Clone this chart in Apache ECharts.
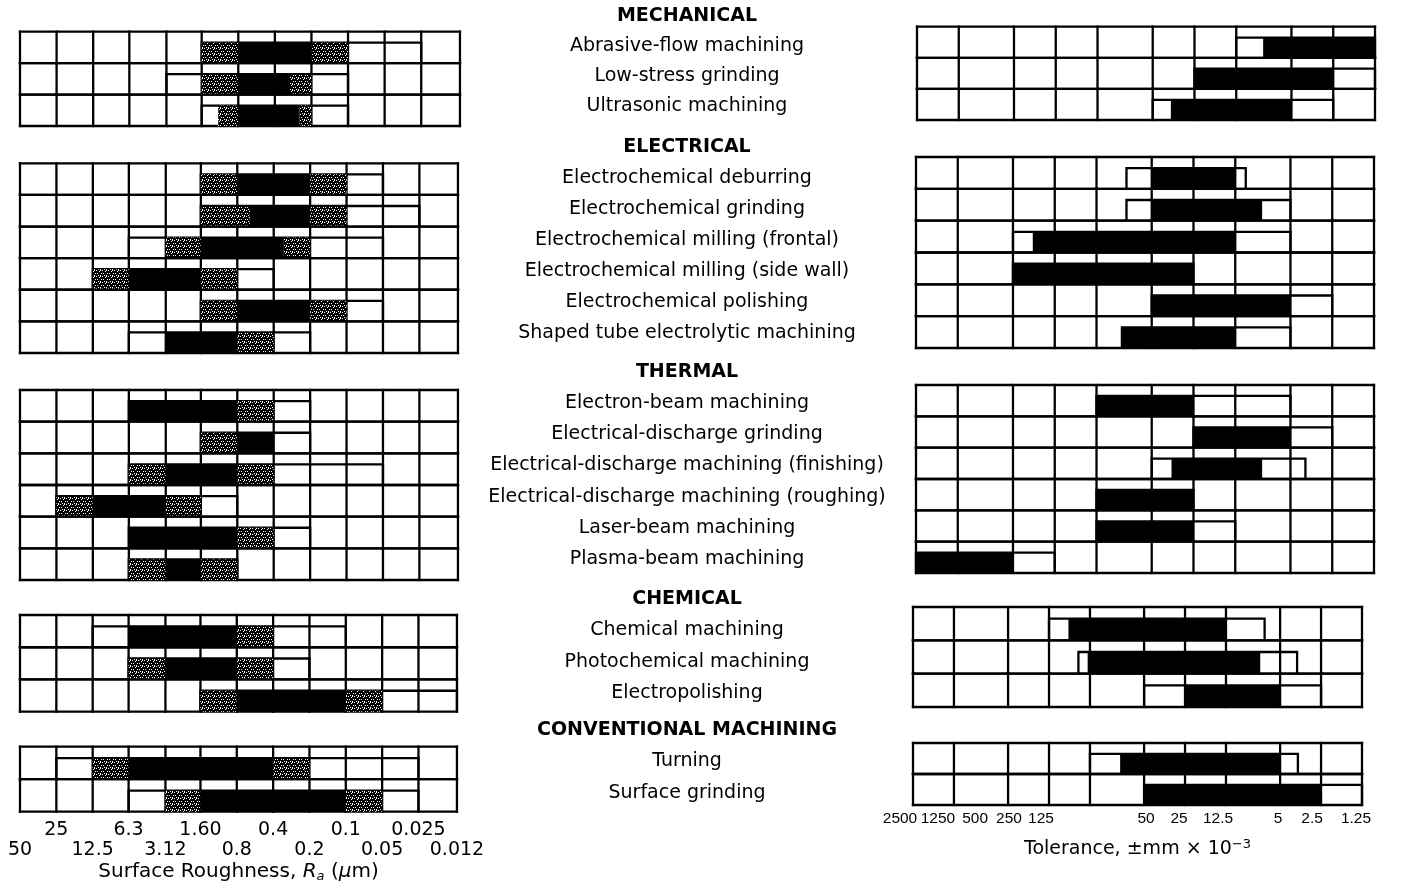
<!DOCTYPE html>
<html><head><meta charset="utf-8">
<script src="https://cdn.jsdelivr.net/npm/echarts@6/dist/echarts.min.js"></script>
<style>html,body{margin:0;padding:0;background:#fff}#c{width:1414px;height:893px}</style>
</head><body><div id="c"></div>
<script>
// ---------------- DATA ----------------
const groupTitles = ['MECHANICAL', 'ELECTRICAL', 'THERMAL', 'CHEMICAL', 'CONVENTIONAL MACHINING'];
const mechanical = ['Abrasive-flow machining', 'Low-stress grinding', 'Ultrasonic machining'];
const electrical = ['Electrochemical deburring', 'Electrochemical grinding', 'Electrochemical milling (frontal)',
  'Electrochemical milling (side wall)', 'Electrochemical polishing', 'Shaped tube electrolytic machining'];
const thermal = ['Electron-beam machining', 'Electrical-discharge grinding', 'Electrical-discharge machining (finishing)',
  'Electrical-discharge machining (roughing)', 'Laser-beam machining', 'Plasma-beam machining'];
const chemical = ['Chemical machining', 'Photochemical machining', 'Electropolishing'];
const conventional = ['Turning', 'Surface grinding'];

// Each row: [less frequent from, average from, common from, common to, average to, less frequent to]
// Surface roughness Ra (µm)
const roughMechanical = [[1.6, 1.6, 0.8, 0.2, 0.1, 0.025], [3.12, 1.6, 0.8, 0.3, 0.2, 0.1], [1.6, 1.17, 0.8, 0.25, 0.2, 0.1]];
const roughElectrical = [[1.6, 1.6, 0.8, 0.2, 0.1, 0.05], [1.6, 1.6, 0.63, 0.2, 0.1, 0.025], [6.3, 3.12, 1.6, 0.33, 0.2, 0.05],
  [12.5, 12.5, 6.3, 1.6, 0.8, 0.4], [1.6, 1.6, 0.8, 0.2, 0.1, 0.05], [6.3, 3.12, 3.12, 0.8, 0.4, 0.2]];
const roughThermal = [[6.3, 6.3, 6.3, 0.8, 0.4, 0.2], [1.6, 1.6, 0.8, 0.4, 0.4, 0.2], [6.3, 6.3, 3.12, 0.8, 0.4, 0.05],
  [25, 25, 12.5, 3.12, 1.6, 0.8], [6.3, 6.3, 6.3, 0.8, 0.4, 0.2], [6.3, 6.3, 3.12, 1.6, 0.8, 0.8]];
const roughChemical = [[12.5, 6.3, 6.3, 0.8, 0.4, 0.1], [6.3, 6.3, 3.12, 0.8, 0.4, 0.2], [1.6, 1.6, 0.8, 0.1, 0.05, 0.012]];
const roughConventional = [[25, 12.5, 6.3, 0.4, 0.2, 0.025], [6.3, 3.12, 1.6, 0.1, 0.05, 0.025]];

// Tolerance (±mm × 10^-3)
const tolMechanical = [[12.5, 8, 8, 1.25, 1.25, 1.25], [25, 25, 25, 2.5, 2.5, 1.25], [50, 37, 37, 5, 5, 2.5]];
const tolElectrical = [[76, 50, 50, 12.5, 12.5, 10.5], [76, 50, 50, 8, 8, 5], [500, 360, 360, 12.5, 12.5, 5],
  [500, 500, 500, 25, 25, 25], [50, 50, 50, 5, 5, 2.5], [82, 82, 82, 12.5, 12.5, 5]];
const tolThermal = [[125, 125, 125, 25, 25, 5], [25, 25, 25, 5, 5, 2.5], [50, 36, 36, 8, 8, 3.9],
  [125, 125, 125, 25, 25, 25], [125, 125, 125, 25, 25, 12.5], [2500, 2500, 2500, 500, 500, 250]];
const tolChemical = [[250, 180, 180, 12.5, 12.5, 6.5], [152, 130, 130, 7, 7, 3.75], [50, 25, 25, 5, 5, 2.5]];
const tolConventional = [[125, 75, 75, 5, 5, 3.7], [50, 50, 50, 2.5, 2.5, 1.25]];

const roughTicks = [50, 25, 12.5, 6.3, 3.12, 1.6, 0.8, 0.4, 0.2, 0.1, 0.05, 0.025, 0.012];
const roughTickLabels = ['50', '25', '12.5', '6.3', '3.12', '1.60', '0.8', '0.4', '0.2', '0.1', '0.05', '0.025', '0.012'];
const tolTicks = [2500, 1250, 500, 250, 125, 50, 25, 12.5, 5, 2.5, 1.25];
const tolTickLabels = ['2500', '1250', '500', '250', '125', '50', '25', '12.5', '5', '2.5', '1.25'];

// ---------------- LAYOUT / STYLE ----------------
const FONT = 'DejaVu Sans';
const FS = 19;
const LW = 2.3;
const SPLIT = 0.35;
const names = [mechanical, electrical, thermal, chemical, conventional];
const roughData = [roughMechanical, roughElectrical, roughThermal, roughChemical, roughConventional];
const tolData = [tolMechanical, tolElectrical, tolThermal, tolChemical, tolConventional];
const leftGrids = [
  {left: 20, top: 31.7, width: 440, height: 94.3},
  {left: 20, top: 163.3, width: 438, height: 189.7},
  {left: 20, top: 390, width: 438, height: 190},
  {left: 20, top: 615, width: 437, height: 96.7},
  {left: 20, top: 746.7, width: 437, height: 65}
];
const rightGrids = [
  {left: 917, top: 26.7, width: 458, height: 93.3},
  {left: 916, top: 157, width: 458, height: 191},
  {left: 916, top: 385, width: 458, height: 188},
  {left: 913, top: 607, width: 449, height: 100},
  {left: 913, top: 743, width: 449, height: 62}
];
const midGrids = [
  {top: 1, height: 120}, {top: 131.5, height: 217}, {top: 356.4, height: 218.2},
  {top: 583.3, height: 125.3}, {top: 714.25, height: 94.5}
];
// horizontal offsets (px) of the printed tolerance labels relative to their grid lines
const tolLabelShift = [-13, -16, -33, -40, -49, 2, -6, -8, -2, -9, -6];
const TOLFONT = 'Liberation Sans', TOLFS = 15.5;
const ROUGH_MIN = 0.01199, ROUGH_MAX = 50.001, TOL_MIN = 1.2499, TOL_MAX = 2500.01;

// stippled fill for the "average" ranges
const stip = document.createElement('canvas');
stip.width = 6; stip.height = 6;
(function () {
  const ctx = stip.getContext('2d');
  ctx.fillStyle = '#000'; ctx.fillRect(0, 0, 6, 6);
  ctx.fillStyle = '#fff';
  [[0, 0], [3, 1], [5, 3], [1, 3], [4, 5], [2, 5], [4, 0]].forEach(p => ctx.fillRect(p[0], p[1], 1, 1));
})();
const GRAY = {image: stip, repeat: 'repeat'};

function findIdx(ticks, v) {
  return ticks.findIndex(t => Math.abs(t - v) / t < 1e-4);
}

function makeRenderer(ticks) {
  return function (params, api) {
    const r = api.value(0);
    const pt = v => api.coord([v, r]);
    const cy = pt(ticks[0])[1];
    const h = Math.abs(api.coord([ticks[0], 1])[1] - api.coord([ticks[0], 0])[1]);
    const top = cy - h / 2, bot = cy + h / 2;
    const xs = ticks.map(t => pt(t)[0]);
    const xl = Math.min.apply(null, xs), xr = Math.max.apply(null, xs);
    const sy = top + h * SPLIT;
    const X = i => pt(api.value(i))[0];
    const a = X(1), b = X(2), c = X(3), d = X(4), e = X(5), f = X(6);
    const L = (x1, y1, x2, y2) => ({type: 'line', shape: {x1, y1, x2, y2},
      style: {stroke: '#000', lineWidth: LW, lineCap: 'square'}});
    const R = (x1, x2, fill) => ({type: 'rect', shape: {x: Math.min(x1, x2), y: sy, width: Math.abs(x2 - x1), height: bot - sy},
      style: {fill: fill}});
    const ch = [];
    xs.forEach(x => ch.push(L(x, top, x, bot)));
    ch.push(L(xl, top, xr, top));
    ch.push(L(xl, bot, xr, bot));
    ch.push({type: 'polyline', shape: {points: [[a, bot], [a, sy], [f, sy], [f, bot]]},
      style: {stroke: '#000', lineWidth: LW, fill: null, lineJoin: 'miter'}});
    if (Math.abs(c - b) > 0.5) ch.push(R(b, c, GRAY));
    if (Math.abs(e - d) > 0.5) ch.push(R(d, e, GRAY));
    ch.push(R(c, d, '#000'));
    return {type: 'group', children: ch};
  };
}

const grid = [], xAxis = [], yAxis = [], series = [];
const tolRich = {};
tolLabelShift.forEach((dx, i) => {
  tolRich['s' + i] = {fontFamily: TOLFONT, fontSize: TOLFS, color: '#000',
    padding: dx < 0 ? [0, -2 * dx, 0, 0] : [0, 0, 0, 2 * dx]};
});

function dataAxis(gi, isRough) {
  return {gridIndex: gi, type: 'log', logBase: isRough ? 2 : 10, inverse: true, position: 'bottom',
    min: isRough ? ROUGH_MIN : TOL_MIN, max: isRough ? ROUGH_MAX : TOL_MAX, show: false};
}

let leftBottom = -1, rightBottom = -1;
for (let g = 0; g < 5; g++) {
  grid.push(Object.assign({}, leftGrids[g]));
  if (g === 4) leftBottom = grid.length - 1;
  xAxis.push(dataAxis(grid.length - 1, true));
  yAxis.push({gridIndex: grid.length - 1, type: 'category', inverse: true, data: names[g], show: false});
  series.push({type: 'custom', xAxisIndex: grid.length - 1, yAxisIndex: grid.length - 1,
    renderItem: makeRenderer(roughTicks), encode: {x: [1, 2, 3, 4, 5, 6], y: 0},
    data: roughData[g].map((v, i) => [i].concat(v)), silent: true});

  grid.push(Object.assign({}, rightGrids[g]));
  if (g === 4) rightBottom = grid.length - 1;
  xAxis.push(dataAxis(grid.length - 1, false));
  yAxis.push({gridIndex: grid.length - 1, type: 'category', inverse: true, data: names[g], show: false});
  series.push({type: 'custom', xAxisIndex: grid.length - 1, yAxisIndex: grid.length - 1,
    renderItem: makeRenderer(tolTicks), encode: {x: [1, 2, 3, 4, 5, 6], y: 0},
    data: tolData[g].map((v, i) => [i].concat(v)), silent: true});
}

// centre label column: group title + process names
for (let g = 0; g < 5; g++) {
  grid.push({left: 687, width: 1, top: midGrids[g].top, height: midGrids[g].height});
  xAxis.push({gridIndex: grid.length - 1, type: 'value', show: false});
  yAxis.push({
    gridIndex: grid.length - 1, type: 'category', inverse: true,
    data: [groupTitles[g]].concat(names[g]),
    axisLine: {show: false}, axisTick: {show: false}, splitLine: {show: false},
    axisLabel: {interval: 0, margin: 0, align: 'center', fontFamily: FONT, fontSize: FS, color: '#000',
      formatter: (v, i) => i === 0 ? '{h|' + v + '}' : v,
      rich: {h: {fontFamily: FONT, fontSize: FS, fontWeight: 'bold', color: '#000'}}}
  });
}

// bottom tick-label axes (split so labels of one axis never touch each other)
[0, 1].forEach(k => {
  const vals = roughTicks.filter((t, i) => i % 2 === (k === 0 ? 1 : 0));
  xAxis.push(Object.assign(dataAxis(leftBottom, true), {
    show: true, axisLine: {show: false}, axisTick: {show: false}, splitLine: {show: false},
    axisLabel: {show: true, customValues: vals, margin: k === 0 ? 9 : 29, fontFamily: FONT, fontSize: FS, color: '#000',
      formatter: v => { const i = findIdx(roughTicks, v); return i < 0 ? '' : roughTickLabels[i]; }},
    name: k === 0 ? 'Surface Roughness, {it|R}{sub|a} ({it|μ}m)' : '', nameLocation: 'middle', nameGap: 49,
    nameTextStyle: {fontFamily: FONT, fontSize: 20, color: '#000',
      rich: {it: {fontFamily: FONT, fontSize: 20, fontStyle: 'italic', color: '#000'},
             sub: {fontFamily: FONT, fontSize: 13, fontStyle: 'italic', color: '#000', padding: [9, 0, 0, 0]}}}
  }));
});
[0, 1, 2].forEach(k => {
  const vals = tolTicks.filter((t, i) => i % 3 === k);
  xAxis.push(Object.assign(dataAxis(rightBottom, false), {
    show: true, axisLine: {show: false}, axisTick: {show: false}, splitLine: {show: false},
    axisLabel: {show: true, customValues: vals, margin: 6, fontFamily: TOLFONT, fontSize: TOLFS, color: '#000', rich: tolRich,
      formatter: v => { const i = findIdx(tolTicks, v); return i < 0 ? '' : '{s' + i + '|' + tolTickLabels[i] + '}'; }},
    name: k === 0 ? 'Tolerance, ±mm × 10{sup|−3}' : '', nameLocation: 'middle', nameGap: 33,
    nameTextStyle: {fontFamily: FONT, fontSize: 19, color: '#000',
      rich: {sup: {fontFamily: FONT, fontSize: 13, color: '#000', padding: [0, 0, 10, 0]}}}
  }));
});

const chart = echarts.init(document.getElementById('c'), null, {renderer: 'canvas'});
chart.setOption({
  animation: false,
  backgroundColor: '#fff',
  textStyle: {fontFamily: FONT},
  grid, xAxis, yAxis, series
});
</script>
</body></html>
